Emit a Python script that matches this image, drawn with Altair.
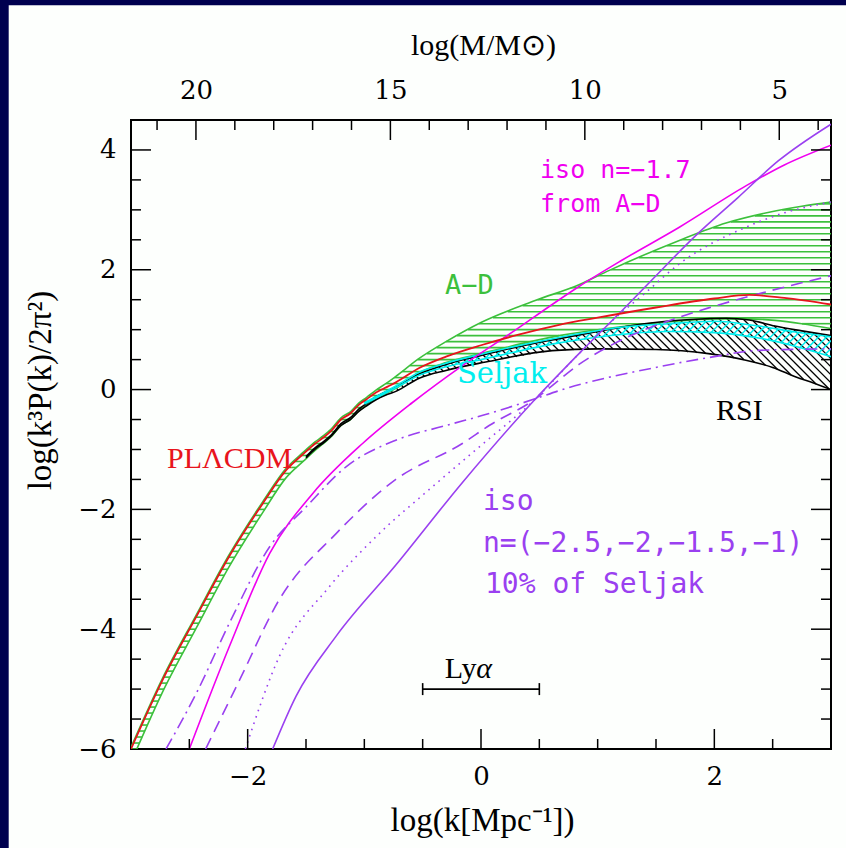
import altair as alt
import numpy as np
import pandas as pd

# ---------------- geometry of the panel ----------------
W, H = 700, 629
X_DOM = [-3.0, 3.0]
Y_DOM = [-6.0, 4.5]
M_AT_K0 = 12.67                      # log M at log k = 0 (log M = M_AT_K0 - 3 log k)
M_DOM = [M_AT_K0 - 3 * X_DOM[1], M_AT_K0 - 3 * X_DOM[0]]

NAVY = "#00004f"
PANEL = "#fdfffd"
RED = "#e8141c"
GREEN = "#3cc03c"
CYAN = "#00eeee"
MAGENTA = "#f000f0"
PURPLE = "#9a40f0"

# ---------------- data ----------------
red_x = [-3.0, -2.73, -2.44, -2.16, -1.87, -1.67, -1.52, -1.42, -1.35, -1.28, -1.2, -1.12, -1.05, -0.98,
         -0.9, -0.8, -0.73, -0.53, -0.3, 0.0, 0.33, 0.67, 1.0, 1.5, 2.0, 2.3, 2.6, 3.0]
red_y = [-6.0, -4.85, -3.79, -2.79, -1.90, -1.345, -1.07, -0.90, -0.80, -0.68, -0.50, -0.40, -0.26, -0.16,
         -0.05, 0.05, 0.12, 0.36, 0.55, 0.74, 0.92, 1.08, 1.2, 1.37, 1.52, 1.58, 1.53, 1.42]

ad_hi_x = [-3.0, -2.73, -2.44, -2.16, -1.87, -1.67, -1.52, -1.42, -1.35, -1.28, -1.2, -1.12, -1.05, -0.98,
           -0.9, -0.8, -0.73, -0.53, -0.3, 0.0, 0.47, 0.84, 1.1, 1.7, 2.1, 2.47, 2.75, 3.0]
ad_hi_y = [-5.97, -4.82, -3.76, -2.76, -1.87, -1.315, -1.04, -0.87, -0.77, -0.65, -0.47, -0.37, -0.23, -0.13,
           -0.01, 0.12, 0.22, 0.52, 0.8, 1.12, 1.49, 1.75, 1.99, 2.49, 2.78, 2.96, 3.06, 3.13]
ad_lo_x = [-2.95, -2.73, -2.44, -2.16, -1.87, -1.67, -1.52, -1.42, -1.35, -1.28, -1.2, -1.12, -1.05, -0.98,
           -0.9, -0.8, -0.73, -0.53, -0.3, 0.0, 0.67, 1.2, 1.61, 2.0, 2.27, 2.52, 2.75, 3.0]
ad_lo_y = [-6.0, -5.05, -3.98, -2.96, -2.05, -1.47, -1.19, -1.01, -0.9, -0.78, -0.6, -0.5, -0.36, -0.26,
           -0.15, -0.05, 0.02, 0.28, 0.45, 0.6, 0.9, 1.05, 1.13, 1.18, 1.18, 1.155, 1.1, 1.02]

rsi_hi_x = [-1.5, -1.42, -1.35, -1.28, -1.2, -1.12, -1.05, -0.98, -0.9, -0.8, -0.73, -0.53, -0.3, 0.0,
            0.33, 0.67, 1.0, 1.4, 1.8, 2.1, 2.3, 2.52, 2.75, 3.0]
rsi_hi_y = [-1.12, -0.97, -0.87, -0.75, -0.57, -0.47, -0.33, -0.23, -0.12, -0.02, 0.04, 0.26, 0.42, 0.57,
            0.72, 0.85, 0.97, 1.1, 1.17, 1.19, 1.16, 1.06, 0.98, 0.9]
rsi_lo_x = [-1.5, -1.42, -1.35, -1.28, -1.2, -1.12, -1.05, -0.98, -0.9, -0.8, -0.73, -0.53, -0.3, 0.04,
            0.61, 1.0, 1.5, 1.95, 2.27, 2.5, 2.7, 2.85, 3.0]
rsi_lo_y = [-1.14, -0.99, -0.89, -0.77, -0.6, -0.5, -0.37, -0.27, -0.17, -0.08, -0.03, 0.19, 0.32, 0.46,
            0.65, 0.68, 0.67, 0.6, 0.49, 0.37, 0.21, 0.11, 0.0]

sel_hi_x = [-1.0, -0.73, -0.53, -0.3, 0.0, 0.67, 1.2, 1.61, 2.0, 2.38, 2.7, 3.0]
sel_hi_y = [-0.22, 0.06, 0.29, 0.44, 0.59, 0.87, 1.04, 1.1, 1.14, 1.06, 0.96, 0.88]
sel_lo_x = [-1.0, -0.73, -0.53, -0.3, 0.0, 0.67, 1.2, 1.6, 2.0, 2.38, 2.7, 3.0]
sel_lo_y = [-0.24, 0.03, 0.24, 0.38, 0.5, 0.78, 0.92, 0.97, 0.95, 0.86, 0.72, 0.55]

iso17_x = [-2.5, -2.157, -1.81, -1.44, -1.015, -0.59, -0.159, 0.3, 0.61, 0.84, 1.2, 1.7, 2.27, 2.6, 3.0]
iso17_y = [-6.0, -4.29, -2.73, -1.73, -0.9, -0.22, 0.4, 1.0, 1.42, 1.72, 2.15, 2.71, 3.4, 3.75, 4.08]

isoA_x = [-1.786, -1.586, -1.243, -0.73, -0.159, 0.47, 0.84, 1.21, 1.5, 1.84, 2.2, 2.55, 3.0]   # n = -1
isoA_y = [-6.0, -5.12, -4.12, -2.93, -1.55, -0.15, 0.6, 1.32, 1.9, 2.57, 3.2, 3.82, 4.43]
isoB_x = [-2.02, -1.73, -1.30, -0.87, -0.445, -0.016, 0.47, 0.84, 1.125, 1.4, 1.7, 2.27, 2.6, 3.0]   # n = -1.5
isoB_y = [-6.0, -4.46, -3.29, -2.4, -1.67, -0.96, -0.15, 0.6, 1.15, 1.6, 2.1, 2.71, 2.95, 3.13]
isoC_x = [-2.36, -2.07, -1.73, -1.24, -0.73, -0.16, 0.07, 0.47, 0.6, 0.84, 1.125, 1.7, 1.98, 2.5, 3.0]  # n = -2
isoC_y = [-6.0, -4.85, -3.51, -2.4, -1.5, -0.9, -0.6, -0.15, 0.05, 0.42, 0.75, 1.21, 1.38, 1.66, 1.9]
isoD_x = [-2.70, -2.44, -2.157, -1.81, -1.5, -1.157, -0.73, -0.3, 0.07, 0.47, 0.667, 1.525, 2.0, 2.38, 3.0]  # n = -2.5
isoD_y = [-6.0, -5.07, -3.9, -2.62, -1.96, -1.29, -0.845, -0.6, -0.4, -0.15, -0.02, 0.38, 0.55, 0.655, 0.68]

lya_range = [-0.5, 0.5]
lya_level = -5.0

x_labels = [-2, 0, 2]
y_labels = [-6, -4, -2, 0, 2, 4]
x_major = [-2, 0, 2]
x_minor = [-2.5, -1.5, -1, -0.5, 0.5, 1, 1.5, 2.5]
y_major = [-4, -2, 0, 2, 4]
y_minor = [-5.5, -5, -4.5, -3.5, -3, -2.5, -1.5, -1, -0.5, 0.5, 1, 1.5, 2.5, 3, 3.5]
m_major = [5, 10, 15, 20]
m_minor = [4, 6, 7, 8, 9, 11, 12, 13, 14, 16, 17, 18, 19, 21]

# annotation texts: (text, log k, value, colour, font, size, style)
labels = [
    ("iso n=\u22121.7", 0.506, 3.53, MAGENTA, "DejaVu Sans Mono", 25, "normal"),
    ("from A\u2212D", 0.506, 2.96, MAGENTA, "DejaVu Sans Mono", 25, "normal"),
    ("A\u2212D", -0.309, 1.595, GREEN, "DejaVu Sans Mono", 27, "normal"),
    ("Seljak", -0.206, 0.11, CYAN, "DejaVu Serif", 29, "normal"),
    ("RSI", 2.014, -0.508, "black", "Liberation Serif", 30, "normal"),
    ("PL\u039bCDM", -2.691, -1.309, RED, "Liberation Serif", 30, "normal"),
    ("iso", 0.017, -2.01, PURPLE, "DejaVu Sans Mono", 28, "normal"),
    ("n=(\u22122.5,\u22122,\u22121.5,\u22121)", 0.017, -2.71, PURPLE, "DejaVu Sans Mono", 28, "normal"),
    ("10% of Seljak", 0.034, -3.396, PURPLE, "DejaVu Sans Mono", 28, "normal"),
    ("Ly", -0.31, -4.815, "black", "Liberation Serif", 30, "normal"),
    ("\u03b1", -0.04, -4.815, "black", "Liberation Serif", 30, "italic"),
]

# ---------------- helpers ----------------
XS = alt.Scale(domain=X_DOM, nice=False, zero=False)
YS = alt.Scale(domain=Y_DOM, nice=False, zero=False)
PXX = W / (X_DOM[1] - X_DOM[0])
PXY = H / (Y_DOM[1] - Y_DOM[0])
grid = np.linspace(X_DOM[0], X_DOM[1], 6001)

AX_X = alt.Axis(values=x_labels, title="log(k[Mpc\u207b\u00b9])", titleX=351, titleY=71,
                titleBaseline="middle", titleAlign="center", labelPadding=14, format="d",
                ticks=False, domain=False, grid=False, titleFontSize=33)
AX_Y = alt.Axis(values=y_labels, title="log(k\u00b3P(k)/2\u03c0\u00b2)", titleX=-91, titleY=270,
                titleAngle=270, titleBaseline="middle", titleAlign="center", labelPadding=15,
                format="d", ticks=False, domain=False, grid=False, titleFontSize=33)


def fx(field="x"):
    return alt.X(field, type="quantitative", scale=XS, axis=AX_X)


def fy(field="y"):
    return alt.Y(field, type="quantitative", scale=YS, axis=AX_Y)


def curve(xs, ys, color, dash=None, width=1.6, interp="monotone"):
    df = pd.DataFrame({"x": xs, "y": ys})
    kw = dict(color=color, strokeWidth=width, clip=True, interpolate=interp)
    if dash:
        kw["strokeDash"] = dash
    return alt.Chart(df).mark_line(**kw).encode(x=fx(), y=fy(), order="x:Q")


def runs(mask):
    idx = np.flatnonzero(np.diff(np.concatenate([[0], mask.astype(int), [0]])))
    return list(zip(idx[0::2], idx[1::2] - 1))


def band_arrays(lox, loy, hix, hiy):
    lo = np.interp(grid, lox, loy, left=-99, right=np.nan)
    hi = np.interp(grid, hix, hiy, left=np.nan, right=np.nan)
    return lo, hi


def horizontal_hatch(lox, loy, hix, hiy, step):
    lo, hi = band_arrays(lox, loy, hix, hiy)
    rows = []
    for lev in np.arange(Y_DOM[0], Y_DOM[1], step):
        m = (lo <= lev) & (hi >= lev)
        for s, e in runs(m):
            rows.append({"x": grid[s], "x2": grid[e], "y": lev, "y2": lev})
    return pd.DataFrame(rows)


def diagonal_hatch(lox, loy, hix, hiy, sign, step_px):
    lo, hi = band_arrays(lox, loy, hix, hiy)
    r = sign * PXX / PXY
    ok = ~np.isnan(hi) & ~np.isnan(lo)
    b_all = np.concatenate([lo[ok] - r * grid[ok], hi[ok] - r * grid[ok]])
    rows = []
    for b in np.arange(b_all.min(), b_all.max(), step_px / PXY):
        v = r * grid + b
        m = ok & (v >= lo) & (v <= hi)
        for s, e in runs(m):
            rows.append({"x": grid[s], "x2": grid[e], "y": v[s], "y2": v[e]})
    return pd.DataFrame(rows)


def hatch_layer(df, color, width=1.3):
    return alt.Chart(df).mark_rule(color=color, strokeWidth=width, clip=True).encode(
        x=fx(), x2="x2", y=fy(), y2="y2")


# ---------------- layers ----------------
layers = []

# hatched bands
layers.append(hatch_layer(horizontal_hatch(ad_lo_x, ad_lo_y, ad_hi_x, ad_hi_y, 0.1), GREEN, 1.6))
layers.append(hatch_layer(diagonal_hatch(rsi_lo_x, rsi_lo_y, rsi_hi_x, rsi_hi_y, -1, 8), "black", 1.3))
layers.append(hatch_layer(diagonal_hatch(sel_lo_x, sel_lo_y, sel_hi_x, sel_hi_y, +1, 8), CYAN, 1.5))

# band edges
layers.append(curve(ad_hi_x, ad_hi_y, GREEN))
layers.append(curve(ad_lo_x, ad_lo_y, GREEN))
layers.append(curve(rsi_hi_x, rsi_hi_y, "black"))
layers.append(curve(rsi_lo_x, rsi_lo_y, "black"))
layers.append(curve(sel_hi_x, sel_hi_y, CYAN))
layers.append(curve(sel_lo_x, sel_lo_y, CYAN))

# isocurvature models
layers.append(curve(iso17_x, iso17_y, MAGENTA))
layers.append(curve(isoA_x, isoA_y, PURPLE))
layers.append(curve(isoB_x, isoB_y, PURPLE, dash=[1.6, 5]))
layers.append(curve(isoC_x, isoC_y, PURPLE, dash=[12, 7]))
layers.append(curve(isoD_x, isoD_y, PURPLE, dash=[12, 5, 2, 5]))

# PL-LCDM
layers.append(curve(red_x, red_y, RED, width=1.8))

# Ly-alpha range bar
lya_df = pd.DataFrame({"x": [lya_range[0]], "x2": [lya_range[1]], "y": [lya_level]})
layers.append(alt.Chart(lya_df).mark_rule(color="black", strokeWidth=1.6).encode(
    x=fx(), x2="x2", y=fy()))
cap_df = pd.DataFrame({"x": lya_range, "y": [lya_level - 0.1] * 2, "y2": [lya_level + 0.1] * 2})
layers.append(alt.Chart(cap_df).mark_rule(color="black", strokeWidth=1.6).encode(
    x=fx(), y=fy(), y2="y2"))

# ticks on the bottom, left and right edges (pointing inward)
for vals, size in ((x_major, 20), (x_minor, 10)):
    d = pd.DataFrame({"x": vals})
    layers.append(alt.Chart(d).mark_rule(color="black", strokeWidth=1.5).encode(
        x=fx(), y=alt.value(H), y2=alt.value(H - size)))
for vals, size in ((y_major, 20), (y_minor, 10)):
    d = pd.DataFrame({"y": vals})
    layers.append(alt.Chart(d).mark_rule(color="black", strokeWidth=1.5).encode(
        y=fy(), x=alt.value(0), x2=alt.value(size)))
    layers.append(alt.Chart(d).mark_rule(color="black", strokeWidth=1.5).encode(
        y=fy(), x=alt.value(W), x2=alt.value(W - size)))

# text annotations
for text, x, y, color, font, size, style in labels:
    d = pd.DataFrame({"x": [x], "y": [y], "t": [text]})
    layers.append(alt.Chart(d).mark_text(align="left", baseline="alphabetic", color=color, font=font,
                                         fontSize=size, fontStyle=style).encode(
        x=fx(), y=fy(), text="t:N"))

main = alt.layer(*layers)

# top axis in log(M / Msun)
MS = alt.Scale(domain=M_DOM, reverse=True, nice=False, zero=False)
AX_M = alt.Axis(orient="top", values=m_major, title="log(M/M\u2299)", titleX=352, titleY=-75,
                titleBaseline="middle", titleAlign="center", labelPadding=17, format="d",
                ticks=False, domain=False, grid=False)
m_layers = []
for vals, size in ((m_major, 20), (m_minor, 10)):
    d = pd.DataFrame({"M": vals})
    m_layers.append(alt.Chart(d).mark_rule(color="black", strokeWidth=1.5).encode(
        x=alt.X("M:Q", scale=MS, axis=AX_M), y=alt.value(0), y2=alt.value(size)))
top = alt.layer(*m_layers)

# decorative navy strips (slide background) at the top and left edges of the canvas
strip = pd.DataFrame({"k": [0]})
strips = alt.layer(
    alt.Chart(strip).mark_rect(color=NAVY).encode(
        x=alt.value(-131), x2=alt.value(-122.3), y=alt.value(-120), y2=alt.value(H + 99)),
    alt.Chart(strip).mark_rect(color=NAVY).encode(
        x=alt.value(-131), x2=alt.value(W + 15), y=alt.value(-120), y2=alt.value(-114.7)),
)

chart = alt.layer(strips, main, top).resolve_scale(x="independent").properties(
    width=W, height=H, background=PANEL,
    padding={"left": 131, "top": 120, "right": 15, "bottom": 99},
    autosize=alt.AutoSizeParams(type="none"),
).configure_view(stroke="black", strokeWidth=2, fill=PANEL).configure_axis(
    labelFont="DejaVu Serif", labelFontSize=26, labelColor="black",
    titleFont="Liberation Serif", titleFontSize=30, titleFontWeight="normal", titleColor="black",
)

chart.save("out.html", embed_options={"renderer": "svg", "actions": False})
